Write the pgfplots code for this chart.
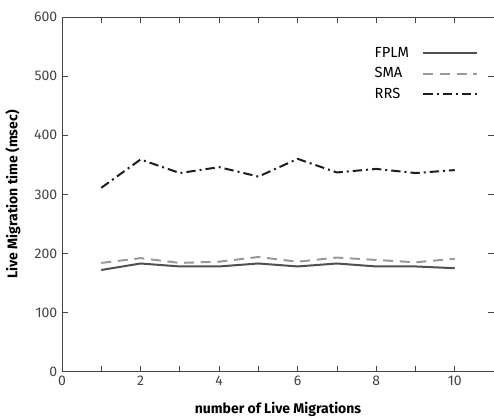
\documentclass[border=0pt]{standalone}
\usepackage{fontspec}
\setmainfont{Fira Sans}
\usepackage{pgfplots}
\pgfplotsset{compat=1.18}
\usetikzlibrary{calc}
\definecolor{axgray}{HTML}{444444}
\definecolor{fplm}{HTML}{505050}
\definecolor{sma}{HTML}{999999}
\definecolor{rrs}{HTML}{1E1E1E}

\begin{document}
\begin{tikzpicture}
\begin{axis}[
  name=ax,
  scale only axis,
  width=324pt, height=266pt,
  xmin=0, xmax=11, ymin=0, ymax=600,
  xtick={0,1,...,10}, xticklabels={0,,2,,4,,6,,8,,10},
  ytick={0,100,...,600},
  axis line style={axgray, line width=0.7pt},
  tick style={axgray, line width=0.6pt},
  major tick length=4.5pt,
  ticklabel style={font=\fontsize{10.5}{12}\selectfont, text=axgray},
  /pgf/number format/assume math mode=true,
  xlabel={\textbf{number of Live Migrations}},
  ylabel={\textbf{Live Migration time (msec)}},
  label style={font=\fontsize{10.5}{12}\selectfont},
  xlabel style={yshift=-5pt},
  ylabel style={yshift=3.5pt},
  legend style={at={(0.972,0.93)}, anchor=north east, draw=none, fill=none,
                font=\fontsize{11}{13}\selectfont, row sep=2pt},
  legend cell align=left,
  legend plot pos=right,
  legend image code/.code={\path (0pt,0pt); \draw[#1] (8pt,0pt) -- (48pt,0pt);},
]
\addplot[fplm, line width=1.5pt] coordinates
  {(1,172)(2,183)(3,178)(4,178)(5,183)(6,178)(7,183)(8,178)(9,178)(10,175)};
\addplot[sma, line width=1.5pt, dash pattern=on 7.5pt off 5pt] coordinates
  {(1,184)(2,192)(3,184)(4,186)(5,194)(6,186)(7,193)(8,189)(9,185)(10,191)};
\addplot[rrs, line width=1.5pt, dash pattern=on 7pt off 3pt on 1.5pt off 3pt] coordinates
  {(1,311)(2,359)(3,336)(4,346)(5,330)(6,360)(7,337)(8,343)(9,336)(10,341)};
\legend{FPLM, SMA, RRS}
\end{axis}
\pgfresetboundingbox
\path[use as bounding box] ($(ax.south west)+(-46.5pt,-34.5pt)$) rectangle ($(ax.north east)+(0pt,12.75pt)$);
\end{tikzpicture}
\end{document}
